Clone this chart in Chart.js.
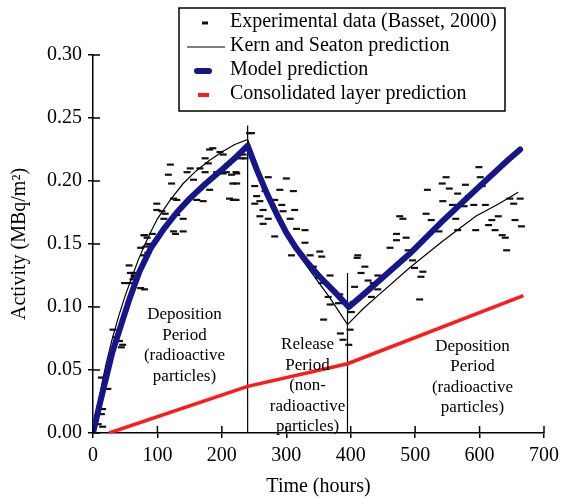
<!DOCTYPE html>
<html>
<head>
<meta charset="utf-8">
<script src="https://cdn.jsdelivr.net/npm/chart.js@4.4.1/dist/chart.umd.min.js"></script>
<style>
  html, body { margin: 0; padding: 0; background: #fff; }
</style>
</head>
<body>
<canvas id="chart" width="565" height="499"></canvas>
<script>
// ---- data ----
const expX = [
  4, 8, 13, 13, 15, 15, 23, 31, 36, 41, 44, 46, 49, 59, 62, 64, 62, 74, 80, 85, 87, 92, 80,
  58, 64, 56, 79, 84, 82, 74, 79, 99, 107, 112, 110, 130, 140, 125, 128, 140, 125, 130, 99,
  122, 117, 120, 146, 151, 166, 174, 181, 186, 197, 202, 192, 202, 207, 215, 222, 217, 222,
  212, 230, 233, 243, 209, 161, 171, 156, 181, 174, 179,
  223, 223, 218, 236, 246, 272, 300, 251, 267, 290, 311, 254, 259, 282, 293, 251, 264, 295,
  313, 259, 272, 306, 264, 282, 316, 329, 329, 308, 337, 352, 355, 342, 368, 350, 355, 365,
  383, 381, 368, 358, 384, 388, 397, 399, 401, 404, 406, 410, 411, 416, 422, 427, 432, 442, 442,
  435, 450, 461, 471, 476, 481, 471, 486, 489, 496, 499, 509, 507, 512, 517, 519, 525, 537,
  542, 548, 553, 558, 563, 566, 578, 583, 576, 591, 594, 601, 599, 604, 609, 619, 624, 614,
  635, 640, 642, 647, 653, 663, 655, 665, 629, 566, 543
];
const expY = [
  0.010, 0.007, 0.044, 0.015, 0.005, 0.019, 0.035, 0.082, 0.076, 0.073, 0.068, 0.070, 0.119,
  0.119, 0.122, 0.124, 0.127, 0.115, 0.114, 0.143, 0.150, 0.158, 0.157,
  0.127, 0.125, 0.133, 0.157, 0.155, 0.148, 0.147, 0.141, 0.182, 0.176, 0.174, 0.170, 0.173,
  0.170, 0.160, 0.158, 0.160, 0.186, 0.185, 0.177, 0.198, 0.205, 0.213, 0.207, 0.210, 0.210,
  0.207, 0.225, 0.226, 0.223, 0.221, 0.207, 0.206, 0.207, 0.205, 0.207, 0.198, 0.185, 0.186,
  0.218, 0.221, 0.238, 0.213, 0.185, 0.184, 0.201, 0.193, 0.218, 0.214,
  0.206, 0.198, 0.185, 0.218, 0.238, 0.203, 0.202, 0.196, 0.192, 0.193, 0.192, 0.188, 0.184,
  0.185, 0.181, 0.182, 0.177, 0.176, 0.177, 0.172, 0.170, 0.170, 0.166, 0.156, 0.162, 0.161,
  0.151, 0.141, 0.141, 0.144, 0.140, 0.132, 0.125, 0.123, 0.119, 0.108, 0.110, 0.103, 0.102,
  0.090, 0.079, 0.074, 0.070, 0.082, 0.096, 0.104, 0.116, 0.139, 0.141, 0.127, 0.132, 0.121,
  0.108, 0.125, 0.114,
  0.119, 0.124, 0.147, 0.158, 0.172, 0.170, 0.153, 0.155, 0.145, 0.137, 0.131, 0.124, 0.106,
  0.128, 0.174, 0.193, 0.169, 0.160, 0.198, 0.203, 0.194, 0.181, 0.170, 0.161, 0.197, 0.188,
  0.180, 0.181, 0.161, 0.203, 0.211, 0.196, 0.181, 0.169, 0.161, 0.165, 0.157, 0.155, 0.145,
  0.186, 0.182, 0.186, 0.169, 0.164, 0.172, 0.190, 0.184
];

const kernX = [0, 5, 10, 15, 20, 30, 40, 50, 60, 70, 80, 90, 100, 120, 140, 160, 180, 200, 220, 240,
  260, 287, 310, 338, 368, 395, 420, 440, 491, 542, 594, 630, 660];
const kernY = [0, 0.015, 0.029, 0.042, 0.054, 0.075, 0.093, 0.109, 0.123, 0.137, 0.149, 0.160,
  0.170, 0.185, 0.198, 0.208, 0.216, 0.223, 0.229, 0.233,
  0.205, 0.170, 0.148, 0.128, 0.107, 0.086, 0.099, 0.108, 0.131, 0.152, 0.172, 0.182, 0.191];

const modelX = [0, 10, 20, 30, 45, 57, 72, 90, 110, 130, 150, 175, 200, 220, 240,
  255, 270, 285, 300, 315, 330, 350, 375, 397, 420, 440, 491, 542, 594, 645, 663];
const modelY = [0, 0.022, 0.043, 0.064, 0.088, 0.107, 0.128, 0.147, 0.162, 0.175, 0.186, 0.198,
  0.209, 0.218, 0.228,
  0.208, 0.190, 0.174, 0.159, 0.147, 0.137, 0.125, 0.112, 0.100, 0.110, 0.119, 0.142, 0.168,
  0.193, 0.217, 0.225];

const layerX = [25, 240, 395, 668];
const layerY = [0, 0.037, 0.055, 0.109];

const boundaryX = [240, 395];
const boundaryTop = [0.244, 0.127];

const noteX = [142, 333, 589];
const noteTopY = [0.094, 0.070, 0.069];
const noteLines = [
  ["Deposition", "Period", "(radioactive", "particles)"],
  ["Release", "Period", "(non-", "radioactive", "particles)"],
  ["Deposition", "Period", "(radioactive", "particles)"]
];

const xTicks = [0, 100, 200, 300, 400, 500, 600, 700];
const yTicks = [0, 0.05, 0.10, 0.15, 0.20, 0.25, 0.30];

const legendLabels = ["Experimental data (Basset, 2000)", "Kern and Seaton prediction",
  "Model prediction", "Consolidated layer prediction"];

// ---- chart ----
const SERIF = '"Liberation Serif", "Times New Roman", serif';
const pts = (xs, ys) => xs.map((v, i) => ({ x: v, y: ys[i] }));

const datasets = [
  {
    label: legendLabels[0], data: pts(expX, expY), showLine: false,
    pointStyle: 'line', pointRadius: 3.5, pointBorderWidth: 2.2,
    borderColor: '#111', backgroundColor: '#111', order: 4
  },
  {
    label: legendLabels[1], data: pts(kernX, kernY), showLine: true,
    borderColor: '#000', borderWidth: 1.2, pointRadius: 0, tension: 0, order: 1
  },
  {
    label: legendLabels[2], data: pts(modelX, modelY), showLine: true,
    borderColor: '#16168a', borderWidth: 6, pointRadius: 0, tension: 0,
    borderJoinStyle: 'round', borderCapStyle: 'round', order: 0
  },
  {
    label: legendLabels[3], data: pts(layerX, layerY), showLine: true,
    borderColor: '#ff1a1a', borderWidth: 3.5, pointRadius: 0, order: 2
  }
];
boundaryX.forEach((bx, i) => {
  datasets.push({
    label: null, data: [{ x: bx, y: 0 }, { x: bx, y: boundaryTop[i] }], showLine: true,
    borderColor: '#000', borderWidth: 1.2, pointRadius: 0, order: 5
  });
});

const overlay = {
  id: 'overlay',
  afterDraw(chart) {
    const { ctx, chartArea, scales: { x, y } } = chart;
    ctx.save();
    // tick halves inside the plot
    ctx.strokeStyle = '#000';
    ctx.lineWidth = 1.5;
    xTicks.forEach(v => {
      const px = x.getPixelForValue(v);
      ctx.beginPath(); ctx.moveTo(px, chartArea.bottom); ctx.lineTo(px, chartArea.bottom - 7); ctx.stroke();
    });
    yTicks.forEach(v => {
      const py = y.getPixelForValue(v);
      ctx.beginPath(); ctx.moveTo(chartArea.left, py); ctx.lineTo(chartArea.left + 7, py); ctx.stroke();
    });

    // period notes
    ctx.fillStyle = '#000';
    ctx.font = '17px ' + SERIF;
    ctx.textAlign = 'center';
    ctx.textBaseline = 'middle';
    noteX.forEach((nx, i) => {
      const px = x.getPixelForValue(nx);
      const py = y.getPixelForValue(noteTopY[i]);
      noteLines[i].forEach((s, j) => ctx.fillText(s, px, py + j * 20.5));
    });

    // legend box
    const bx = 179, by = 8, bw = 326, bh = 103;
    ctx.fillStyle = '#fff';
    ctx.fillRect(bx, by, bw, bh);
    ctx.strokeStyle = '#000';
    ctx.lineWidth = 1.5;
    ctx.strokeRect(bx, by, bw, bh);
    const rows = [22, 46, 70, 94];
    ctx.font = '20px ' + SERIF;
    ctx.textAlign = 'left';
    ctx.fillStyle = '#000';
    const sym = [
      { x0: 202, x1: 208, w: 3, c: '#111', cap: 'butt' },
      { x0: 187, x1: 225, w: 1.2, c: '#000', cap: 'butt' },
      { x0: 197, x1: 209, w: 6, c: '#16168a', cap: 'round' },
      { x0: 198, x1: 209, w: 4, c: '#ff1a1a', cap: 'butt' }
    ];
    legendLabels.forEach((lab, i) => {
      const s = sym[i];
      ctx.strokeStyle = s.c;
      ctx.lineWidth = s.w;
      ctx.lineCap = s.cap;
      ctx.beginPath(); ctx.moveTo(s.x0, rows[i] + 1); ctx.lineTo(s.x1, rows[i] + 1); ctx.stroke();
      ctx.fillText(lab, 230, rows[i]);
    });
    ctx.restore();
  }
};

new Chart(document.getElementById('chart').getContext('2d'), {
  type: 'scatter',
  data: { datasets: datasets },
  options: {
    responsive: false,
    animation: false,
    layout: { padding: { left: 4, right: 16, top: 55, bottom: 0 } },
    plugins: { legend: { display: false }, tooltip: { enabled: false } },
    scales: {
      x: {
        type: 'linear', min: 0, max: 700,
        afterFit: s => { s.height = 66; },
        afterBuildTicks: s => { s.ticks = xTicks.map(v => ({ value: v })); },
        ticks: { color: '#000', font: { family: SERIF, size: 20 }, padding: 6, maxRotation: 0 },
        grid: { drawOnChartArea: false, tickLength: 5, color: '#000', lineWidth: 1.5 },
        border: { color: '#000', width: 1.5 },
        title: { display: true, text: 'Time (hours)', color: '#000', font: { family: SERIF, size: 20 },
          padding: { top: 0, bottom: 0 } }
      },
      y: {
        type: 'linear', min: 0, max: 0.30,
        afterFit: s => { s.width = 89; },
        afterBuildTicks: s => { s.ticks = yTicks.map(v => ({ value: v })); },
        ticks: { color: '#000', font: { family: SERIF, size: 20 }, padding: 6,
          callback: v => v.toFixed(2) },
        grid: { drawOnChartArea: false, tickLength: 5, color: '#000', lineWidth: 1.5 },
        border: { color: '#000', width: 1.5 },
        title: { display: true, text: 'Activity (MBq/m\u00b2)', color: '#000',
          font: { family: SERIF, size: 20 }, padding: { top: 4, bottom: 0 } }
      }
    }
  },
  plugins: [overlay]
});
</script>
</body>
</html>
